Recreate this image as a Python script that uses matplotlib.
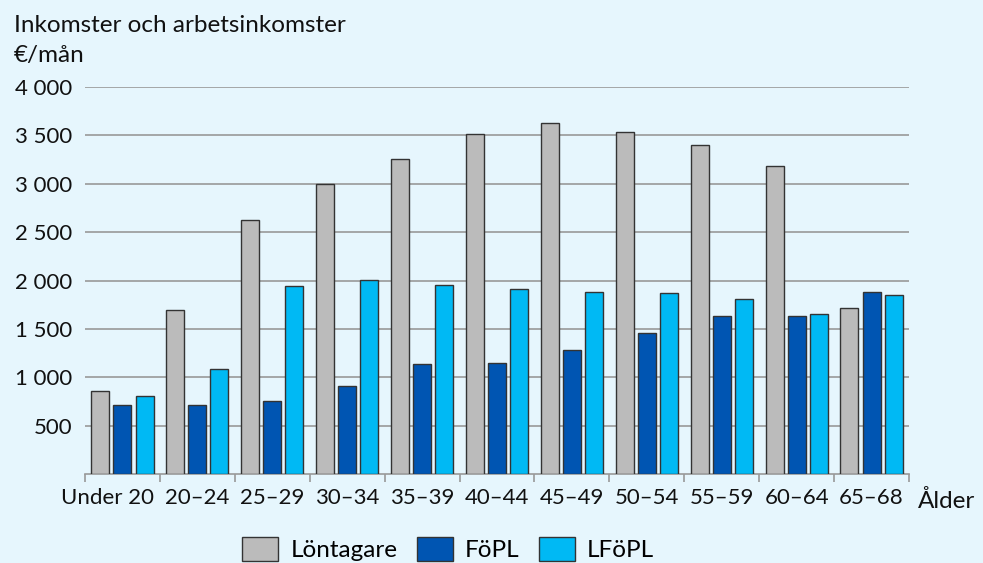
import numpy as np
import matplotlib.pyplot as plt
from matplotlib.patches import Patch
from matplotlib.transforms import ScaledTranslation

# Data
ages = ["Under 20", "20–24", "25–29", "30–34", "35–39", "40–44",
        "45–49", "50–54", "55–59", "60–64", "65–68"]
lontagare = [858, 1700, 2625, 3000, 3255, 3510, 3625, 3530, 3400, 3185, 1715]
fopl = [712, 710, 750, 912, 1138, 1145, 1285, 1457, 1635, 1635, 1880]
lfopl = [805, 1083, 1945, 2003, 1952, 1910, 1885, 1876, 1804, 1653, 1852]

series = [("Löntagare", lontagare, "#BBBBBB"),
          ("FöPL", fopl, "#0055B2"),
          ("LFöPL", lfopl, "#00B9F4")]

bg = "#E6F6FD"
fs = 17.5      # titles, legend
fs_tick = 16   # tick labels
plt.rcParams['font.family'] = ['Lato', 'DejaVu Sans']

fig = plt.figure(figsize=(9.83, 5.63), dpi=100, facecolor=bg)
ax = fig.add_axes([0.0865, 0.158, 0.8382, 0.6875], facecolor=bg)

x = np.arange(len(ages))
width = 0.24
offsets = [-0.295, 0, 0.295]
for (name, vals, col), off in zip(series, offsets):
    ax.bar(x + off, vals, width, color=col, edgecolor="#333333",
           linewidth=1.0, zorder=3, label=name)

ax.set_ylim(0, 4000)
ax.set_xlim(-0.5, len(ages) - 0.5)
ax.set_yticks([500, 1000, 1500, 2000, 2500, 3000, 3500, 4000])
ax.set_yticklabels(["500", "1 000", "1 500", "2 000", "2 500",
                    "3 000", "3 500", "4 000"])
ax.yaxis.grid(True, color="#999999", linewidth=1.2, zorder=0)
ax.tick_params(axis="y", length=0, pad=9, labelsize=fs_tick, colors="#111111")

# labels at centres, tick marks at group boundaries
ax.set_xticks(x)
ax.set_xticklabels(ages)
ax.tick_params(axis="x", which="major", length=0, pad=10, labelsize=fs_tick,
               colors="#111111")
ax.set_xticks(np.arange(-0.5, len(ages)), minor=True)
ax.tick_params(axis="x", which="minor", length=6, width=1.2, color="#999999")

# first label sits a bit to the left in the reference
first = ax.get_xticklabels()[0]
first.set_transform(first.get_transform() +
                    ScaledTranslation(-0.15, 0, fig.dpi_scale_trans))

for s in ["top", "right", "left"]:
    ax.spines[s].set_visible(False)
ax.spines["bottom"].set_color("#999999")
ax.spines["bottom"].set_linewidth(1.2)

fig.text(0.014, 0.955, "Inkomster och arbetsinkomster", fontsize=fs,
         va="center", color="#111111")
fig.text(0.014, 0.902, "€/mån", fontsize=fs, va="center", color="#111111")
fig.text(0.934, 0.11, "Ålder", fontsize=fs, va="center", color="#111111")

handles = [Patch(facecolor=c, edgecolor="#333333", label=n)
           for n, _, c in series]
fig.legend(handles=handles, loc="center", bbox_to_anchor=(0.456, 0.025),
           ncol=3, frameon=False, fontsize=fs, handlelength=1.48,
           handleheight=1.15, handletextpad=0.5, columnspacing=0.8)

fig.savefig("out.png", dpi=100, facecolor=bg)
